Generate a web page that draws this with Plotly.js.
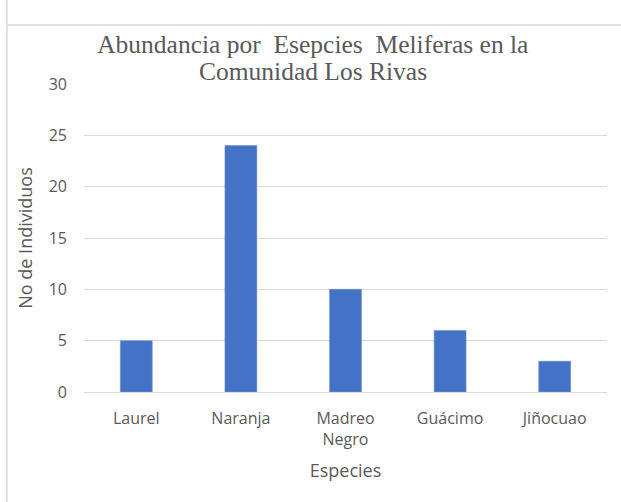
<!DOCTYPE html>
<html><head><meta charset="utf-8">
<script src="https://cdn.plot.ly/plotly-3.0.1.min.js"></script>
<style>html,body{margin:0;padding:0;background:#fff;}#chart{width:621px;height:502px;}</style>
</head><body><div id="chart"></div>
<script>
const categories = ["Laurel", "Naranja", "Madreo<br>Negro", "Guácimo", "Jiñocuao"];
const values = [5, 24, 10, 6, 3];
const yTicks = [0, 5, 10, 15, 20, 25, 30];
const titleLine1 = "Abundancia por \u00a0Esepcies \u00a0Meliferas en la";
const titleLine2 = "Comunidad Los Rivas";

const grey = "#595959";
const lineGrey = "#d9d9d9";
const sans = "Open Sans, Liberation Sans, Arial, sans-serif";
const serif = "Liberation Serif, Times New Roman, serif";

Plotly.newPlot("chart", [{
  type: "bar",
  x: categories,
  y: values,
  marker: {color: "#4472C4", line: {color: "#6a90d6", width: 0.6}},
  hoverinfo: "x+y"
}], {
  width: 621, height: 502,
  paper_bgcolor: "#fff", plot_bgcolor: "#fff",
  margin: {l: 84, r: 14, t: 84, b: 110},
  bargap: 0.695,
  showlegend: false,
  title: {
    text: titleLine1,
    font: {family: serif, size: 25.5, color: grey},
    x: 0.4375, xref: "paper", xanchor: "center",
    y: 0.912, yref: "container", yanchor: "middle"
  },
  annotations: [{
    text: titleLine2, showarrow: false,
    font: {family: serif, size: 25.5, color: grey},
    xref: "paper", yref: "paper", x: 0.4375, y: 1.042,
    xanchor: "center", yanchor: "middle"
  }],
  xaxis: {
    type: "category",
    tickfont: {family: sans, size: 16, color: grey},
    showgrid: false, showline: false, ticks: "",
    ticklabelstandoff: 15,
    title: {text: "Especies", font: {family: sans, size: 18, color: grey}, standoff: 15}
  },
  yaxis: {
    range: [0, 30],
    tickvals: yTicks,
    tickfont: {family: sans, size: 16, color: grey},
    showgrid: true, gridcolor: lineGrey, gridwidth: 1,
    zeroline: true, zerolinecolor: lineGrey, zerolinewidth: 1,
    showline: false, ticks: "", ticklen: 0,
    ticklabelstandoff: 16,
    title: {text: "No de Individuos", font: {family: sans, size: 18, color: grey}, standoff: 11}
  },
  shapes: [
    {type: "line", xref: "paper", yref: "paper", x0: -0.1472, x1: -0.1472, y0: -0.36, y1: 1.28, line: {color: lineGrey, width: 1.5}},
    {type: "line", xref: "paper", yref: "paper", x0: -0.1472, x1: 1.03, y0: 1.1916, y1: 1.1916, line: {color: lineGrey, width: 1.5}}
  ]
}, {displayModeBar: false, staticPlot: true});
</script></body></html>
